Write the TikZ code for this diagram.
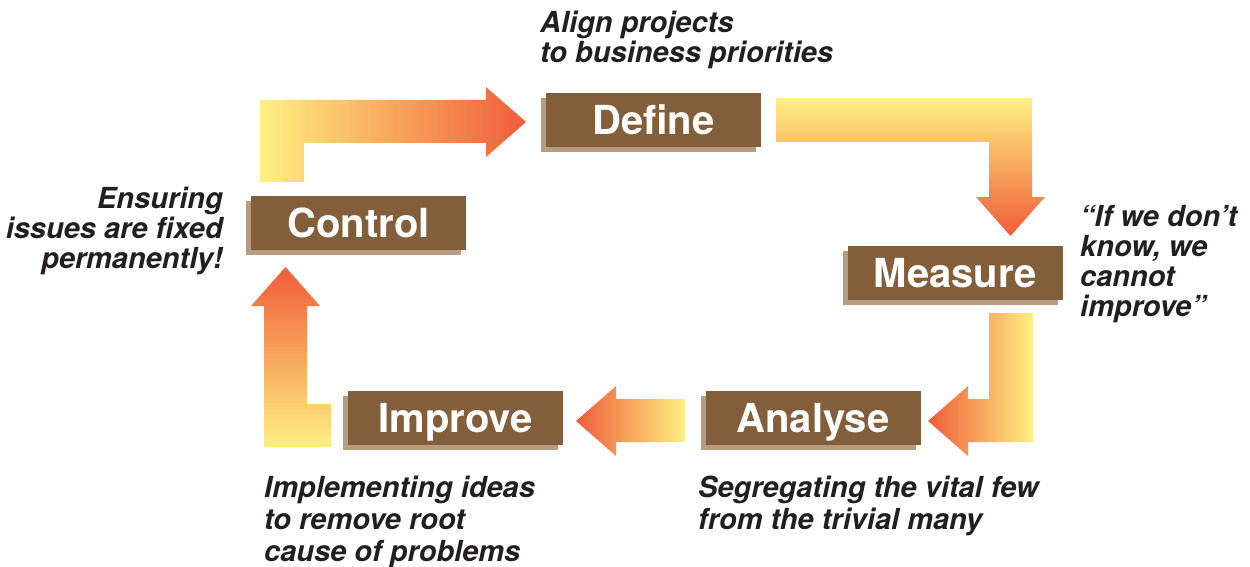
\documentclass[tikz,border=0pt]{standalone}
\usepackage{fontspec}
\setmainfont{TeX Gyre Heros}
\usepackage{xcolor}
\usepackage{tikz}
\usetikzlibrary{shadows}
\definecolor{phasebrown}{RGB}{130,95,58}
\definecolor{phaseshadow}{RGB}{182,156,128}
\definecolor{flowyellow}{RGB}{255,240,130}
\definecolor{flowred}{RGB}{239,92,58}
\definecolor{notegray}{RGB}{35,31,32}

\begin{document}
\begin{tikzpicture}[x=1pt,y=-1pt,
    phase/.style={fill=phasebrown,text=white,inner sep=0pt,
        minimum width=215pt,minimum height=54pt,text height=28.5pt,text depth=0pt,
        font=\fontsize{40}{44}\selectfont\bfseries,
        drop shadow={shadow xshift=-5pt,shadow yshift=-5pt,opacity=1,fill=phaseshadow}},
    note/.style={inner sep=0pt,text=notegray,
        font=\fontsize{29}{30}\selectfont\bfseries\itshape}]
    \useasboundingbox (0,0) rectangle (1250,567);

    % Flow arrows
    \shade[left color=flowyellow,right color=flowred]
        (260,182) -- (260,100) -- (486,100) -- (486,87) -- (526,122)
        -- (486,157) -- (486,143) -- (304,143) -- (304,182) -- cycle;
    \shade[top color=flowyellow,bottom color=flowred]
        (776,98) -- (1032,98) -- (1032,197) -- (1045,197) -- (1010.5,236)
        -- (976,197) -- (989,197) -- (989,142) -- (776,142) -- cycle;
    \shade[left color=flowred,right color=flowyellow]
        (989,313) -- (1033,313) -- (1033,442) -- (968,442) -- (968,456)
        -- (928,421) -- (968,386) -- (968,399) -- (989,399) -- cycle;
    \shade[left color=flowred,right color=flowyellow]
        (685,399) -- (685,442) -- (616,442) -- (616,456) -- (576,421)
        -- (616,386) -- (616,399) -- cycle;
    \shade[top color=flowred,bottom color=flowyellow]
        (264,447) -- (264,306) -- (251,306) -- (285.5,267) -- (320,306)
        -- (307,306) -- (307,404) -- (331,404) -- (331,447) -- cycle;

    % Phases
    \node[phase] (define) at (653.5,120) {Define};
    \node[phase] (measure) at (955,273) {Measure};
    \node[phase] (analyse) at (813,418) {Analyse};
    \node[phase] (improve) at (455.5,418) {Improve};
    \node[phase] (control) at (358.5,223) {Control};

    % Notes (anchored at the last baseline)
    \node[note,anchor=base west,align=left] (alignnote) at (540,63)
        {Align projects\\to business priorities};
    \node[note,anchor=base west,align=left] (knownote) at (1080,316)
        {“If we don’t\\know, we\\cannot\\improve”};
    \node[note,anchor=base west,align=left] (fewnote) at (698,529)
        {Segregating the vital few\\[2pt]from the trivial many};
    \node[note,anchor=base west,align=left] (rootnote) at (264,561)
        {Implementing ideas\\[2pt]to remove root\\[2pt]cause of problems};
    \node[note,anchor=base east,align=right] (fixnote) at (223,268)
        {Ensuring\\issues are fixed\\permanently!};
\end{tikzpicture}
\end{document}
